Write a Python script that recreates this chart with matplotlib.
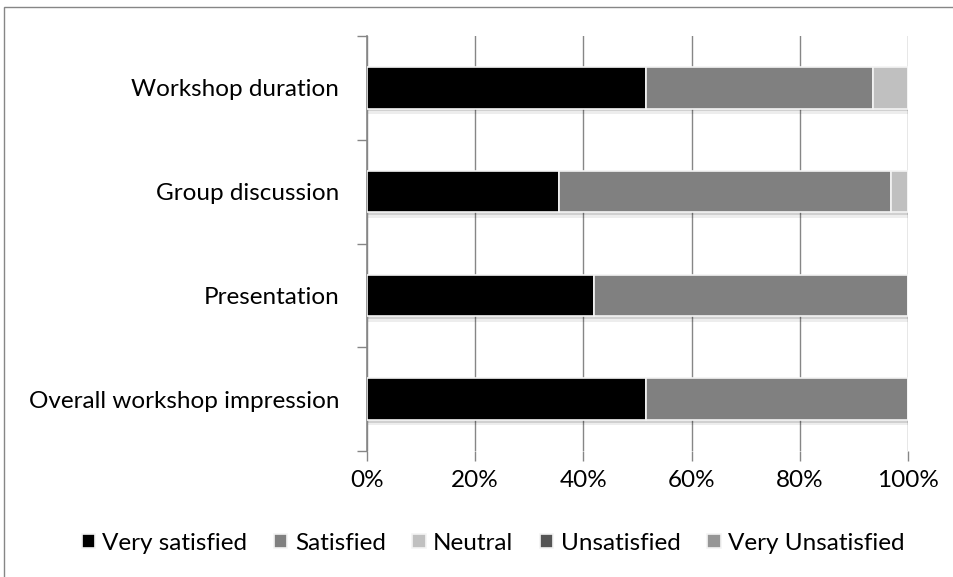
import matplotlib.pyplot as plt
import matplotlib.patheffects as pe
from matplotlib.patches import Rectangle
import numpy as np

# survey categories, top to bottom
categories = ["Workshop duration", "Group discussion", "Presentation", "Overall workshop impression"]
levels = ["Very satisfied", "Satisfied", "Neutral", "Unsatisfied", "Very Unsatisfied"]
colors = ["#000000", "#808080", "#c0c0c0", "#555555", "#969696"]

# percentages per level (same order as categories)
very_satisfied = [51.6, 35.5, 41.9, 51.6]
satisfied = [41.9, 61.3, 58.1, 48.4]
neutral = [6.5, 3.2, 0.0, 0.0]
unsatisfied = [0.0, 0.0, 0.0, 0.0]
very_unsatisfied = [0.0, 0.0, 0.0, 0.0]

series = [very_satisfied, satisfied, neutral, unsatisfied, very_unsatisfied]

plt.rcParams['font.family'] = ['Lato', 'DejaVu Sans']
FS = 17.5

fig = plt.figure(figsize=(9.54, 5.77), dpi=100)
ax = fig.add_axes([367 / 954, 1 - 451 / 577, (908 - 367) / 954, (451 - 36) / 577])

y = np.arange(len(categories))[::-1]
left = np.zeros(len(categories))
all_bars = []
for vals, col, name in zip(series, colors, levels):
    vals = np.array(vals)
    bars = ax.barh(y, vals, left=left, height=0.4, color=col, edgecolor='#f4f4f4',
                   linewidth=1.2, label=name, zorder=3)
    all_bars.extend([b for b in bars if b.get_width() > 0])
    left += vals

ax.set_xlim(0, 100)
ax.set_ylim(-0.5, len(categories) - 0.5)
ax.set_xticks(np.arange(0, 101, 20))
ax.set_xticklabels([f"{v}%" for v in range(0, 101, 20)], fontsize=FS)
ax.set_yticks(y)
ax.set_yticklabels(categories, fontsize=FS)
ax.tick_params(axis='y', length=0, pad=20)
ax.set_yticks(np.arange(-0.5, len(categories), 1), minor=True)
ax.tick_params(axis='y', which='minor', length=7, color='#868686', width=1)
ax.tick_params(axis='x', length=7, color='#868686', width=1, pad=7)

ax.grid(axis='x', color='#868686', linewidth=1, zorder=0)
for s in ['top', 'right', 'bottom']:
    ax.spines[s].set_visible(False)
ax.spines['left'].set_color('#868686')
ax.spines['left'].set_linewidth(1.2)

leg = fig.legend(loc='center', bbox_to_anchor=(493 / 954, 1 - 543 / 577), ncol=5,
                 frameon=False, fontsize=FS, handlelength=0.55, handleheight=0.55,
                 handletextpad=0.3, columnspacing=1.1)

# soft shadow under the bars (added after the legend so the keys stay flat)
shadow = [pe.SimplePatchShadow(offset=(1, -4), shadow_rgbFace='#000000', alpha=0.07),
          pe.SimplePatchShadow(offset=(1, -2), shadow_rgbFace='#000000', alpha=0.12),
          pe.Normal()]
for b in all_bars:
    b.set_path_effects(shadow)

# outer chart border
fig.patches.append(Rectangle((4 / 954, -0.1), 1.2, 1 - 7 / 577 + 0.1, transform=fig.transFigure,
                             fill=False, edgecolor='#868686', linewidth=1))

fig.savefig("out.png", dpi=100)
